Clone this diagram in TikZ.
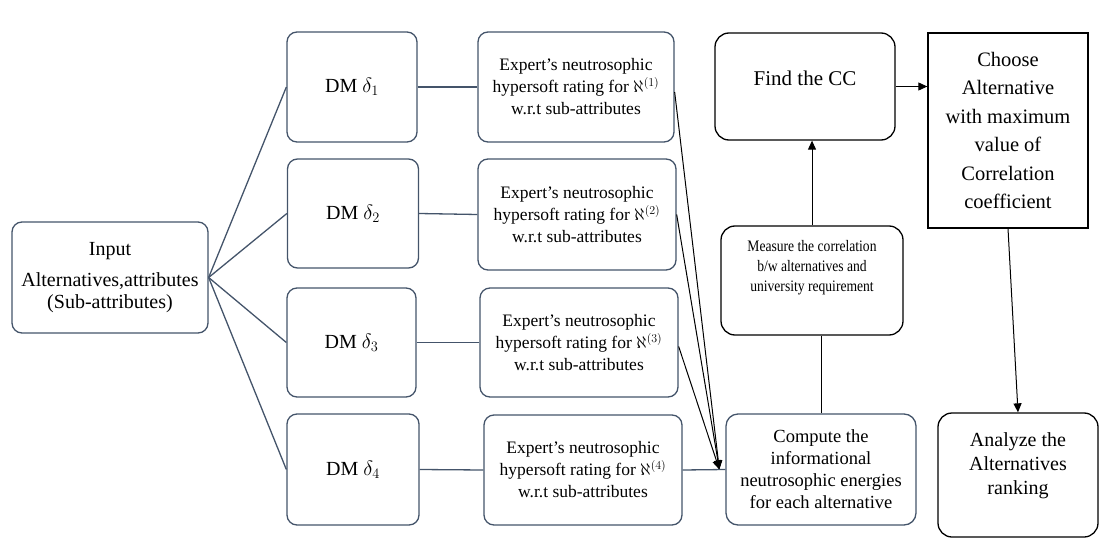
\documentclass[tikz,border=0pt]{standalone}
\usepackage{fontspec}
\setmainfont{Liberation Serif}
\newfontfamily\narrowserif{Liberation Serif}[FakeStretch=0.85]
\usetikzlibrary{arrows.meta}
\definecolor{slate}{HTML}{44546A}
\begin{document}
\begin{tikzpicture}[x=1pt,y=-1pt,
  sbox/.style={draw=slate, line width=1.3pt, rounded corners=10pt, align=center, inner sep=0pt},
  kbox/.style={draw=black, line width=1.3pt, rounded corners=14pt, align=center, inner sep=0pt},
  slink/.style={draw=slate, line width=1.3pt},
  klink/.style={draw=black, line width=1pt},
  arr/.style={draw=black, line width=1pt, -{Triangle[length=9pt,width=8pt]}},
  dmtext/.style={font=\fontsize{20}{22}\selectfont},
  extext/.style={font=\fontsize{17.5}{22}\selectfont}]
\useasboundingbox (0,0) rectangle (1099,540);

\node[sbox, minimum width=196pt, minimum height=111pt, font=\fontsize{20}{22}\selectfont] (input) at (110,277.5)
  {Input\\[9pt]Alternatives,attributes\\(Sub-attributes)};

\node[sbox, dmtext, minimum width=130pt, minimum height=110pt] (dm1) at (352,87) {DM $\delta_1$};
\node[sbox, dmtext, minimum width=131pt, minimum height=109pt] (dm2) at (353,213.5) {DM $\delta_2$};
\node[sbox, dmtext, minimum width=129pt, minimum height=109pt] (dm3) at (351.5,342.5) {DM $\delta_3$};
\node[sbox, dmtext, minimum width=132pt, minimum height=111pt] (dm4) at (353,469.5) {DM $\delta_4$};

\node[sbox, extext, minimum width=196pt, minimum height=110pt] (ex1) at (576,87)
  {Expert's neutrosophic\\hypersoft rating for $\aleph^{(1)}$\\w.r.t sub-attributes};
\node[sbox, extext, minimum width=198pt, minimum height=111pt] (ex2) at (577,214.5)
  {Expert's neutrosophic\\hypersoft rating for $\aleph^{(2)}$\\w.r.t sub-attributes};
\node[sbox, extext, minimum width=198pt, minimum height=109pt] (ex3) at (579,342.5)
  {Expert's neutrosophic\\hypersoft rating for $\aleph^{(3)}$\\w.r.t sub-attributes};
\node[sbox, extext, minimum width=198pt, minimum height=110pt] (ex4) at (583,470)
  {Expert's neutrosophic\\hypersoft rating for $\aleph^{(4)}$\\w.r.t sub-attributes};

\node[sbox, rounded corners=12pt, minimum width=190pt, minimum height=111pt, font=\fontsize{18.5}{22}\selectfont] (compute) at (821,469.5)
  {Compute the\\informational\\neutrosophic energies\\for each alternative};

\node[kbox, minimum width=182pt, minimum height=109pt] (measure) at (812,280.5) {};
\node[font=\narrowserif\fontsize{16}{20}\selectfont, align=center, anchor=north, inner sep=0pt] (mtext) at (812,240)
  {Measure the correlation\\b/w alternatives and\\university requirement};

\node[kbox, minimum width=180pt, minimum height=107pt] (find) at (805,86.5) {};
\node[font=\fontsize{21}{24}\selectfont, inner sep=0pt] (ftext) at (805,78) {Find the CC};

\node[draw=black, line width=1.3pt, minimum width=160pt, minimum height=195pt, align=center, inner sep=0pt,
  font=\fontsize{20.5}{28.5}\selectfont] (choose) at (1008,130.5)
  {Choose\\Alternative\\with maximum\\value of\\Correlation\\coefficient};

\node[kbox, minimum width=160pt, minimum height=124pt] (analyze) at (1018,475) {};
\node[font=\fontsize{20}{24}\selectfont, align=center, inner sep=0pt] (atext) at (1018,466)
  {Analyze the\\Alternatives\\ranking};

% connectors input -> DMs
\foreach \i in {1,2,3,4} {
  \draw[slink] (input.east) -- (dm\i.west);
  \draw[slink] (dm\i.east) -- (ex\i.west);
}

\coordinate (tip) at ([xshift=-6pt]compute.west);
\draw[arr] ([yshift=-5pt]ex1.east) -- (tip);
\draw[arr] (ex2.east) -- (tip);
\draw[arr] ([yshift=-4pt]ex3.east) -- (tip);
\draw[slink] (ex4.east) -- (compute.west);

\draw[klink] (compute.north) -- (compute.north |- measure.south);
\draw[arr] (measure.north) -- (measure.north |- find.south);
\draw[arr] (find.east) -- (choose.west |- find.east);
\draw[arr] (choose.south) -- (analyze.north);
\end{tikzpicture}
\end{document}
